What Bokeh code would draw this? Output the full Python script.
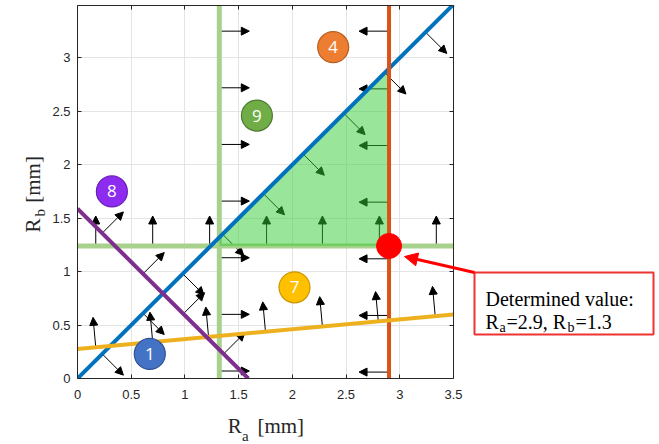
import math
from bokeh.plotting import figure
from bokeh.models import (ColumnDataSource, Arrow, NormalHead, Label, BoxAnnotation,
                          LinearAxis, FixedTicker, Grid)
from bokeh.core.properties import value
from bokeh.embed import file_html
from bokeh.resources import INLINE

# ---------------- data ----------------
ra_ticks = [0, 0.5, 1, 1.5, 2, 2.5, 3, 3.5]
ra_tick_labels = ["0", "0.5", "1", "1.5", "2", "2.5", "3", "3.5"]
rb_ticks = [0, 0.5, 1, 1.5, 2, 2.5, 3]
rb_tick_labels = ["0", "0.5", "1", "1.5", "2", "2.5", "3"]
ra_axis = (0, 3.5)
rb_axis = (0, 3.49)

# constraint 1 : Rb = Ra (feasible side: below)
c1_arrow_ra = [0.23, 0.61, 0.98, 1.35, 1.73, 2.10, 2.48, 2.86, 3.24]
# constraint 8 : Rb = 1.59 - Ra (feasible side: above)
c8_intercept = 1.59
c8_slope = -1.0
c8_arrow_ra = [0.23, 0.61, 0.985, 1.36]
# constraint 7 : Rb = 0.277 + 0.0917 Ra (feasible side: above)
c7_intercept = 0.277
c7_slope = 0.0917
c7_arrow_ra = [0.17, 0.70, 1.22, 1.75, 2.28, 2.80, 3.33]
# constraint 9 : Ra >= 1.32 and Rb >= 1.24
c9_ra = 1.32
c9_rb = 1.24
c9_arrow_rb = [0.07, 0.60, 1.13, 1.66, 2.19, 2.72, 3.25]
c9h_arrow_ra = [0.17, 0.70, 1.23, 1.76, 2.28, 2.81, 3.34]
# constraint 4 : Ra <= 2.9
c4_ra = 2.9
c4_arrow_rb = [0.06, 0.59, 1.12, 1.65, 2.18, 2.71, 3.25]

# numbered markers
marker_ids = ["1", "4", "9", "8", "7"]
marker_ra = [0.673, 2.38, 1.67, 0.32, 2.02]
marker_rb = [0.23, 3.10, 2.46, 1.75, 0.853]
marker_fill = ["#4472C4", "#ED7D31", "#70AD47", "#8E2BF0", "#FFC000"]
marker_edge = ["#2F5597", "#B85E20", "#4E7A31", "#6A1FB5", "#C99700"]

# determined solution
sol_ra = 2.9
sol_rb = 1.24
sol_text_1 = "Determined value:"
sol_text_ra = "=2.9, R"
sol_text_rb = "=1.3"

NBSP3 = "\u00a0\u00a0\u00a0"
x_title = "R" + NBSP3 + "[mm]"
x_title_sub = "a"
y_title = "R" + NBSP3 + "[mm]"
y_title_sub = "b"

# ---------------- layout geometry (page pixels) ----------------
W, H = 659, 444
ML, MR, MT, MB = 77, 4, 5, 66
FX0 = ML                     # page x of Ra = 0
FY0 = H - MB                 # page y of Rb = 0
SX = 376 / (ra_axis[1] - ra_axis[0])
SY = (H - MT - MB) / (rb_axis[1] - rb_axis[0])
x_end = (W - MR - FX0) / SX   # frame extends to the right to hold the note box


def X(px):
    return (px - FX0) / SX


def Y(py):
    return (FY0 - py) / SY


p = figure(width=W, height=H, output_backend="svg", toolbar_location=None,
           x_range=(ra_axis[0], x_end), y_range=rb_axis,
           min_border_left=ML, min_border_right=MR, min_border_top=MT, min_border_bottom=MB,
           background_fill_color="white", border_fill_color="white")
p.outline_line_color = None

AX = "#262626"
for ax, ticks, labels in ((p.xaxis[0], ra_ticks, ra_tick_labels), (p.yaxis[0], rb_ticks, rb_tick_labels)):
    ax.ticker = FixedTicker(ticks=ticks)
    ax.major_label_overrides = {t: l for t, l in zip(ticks, labels)}
    ax.minor_tick_line_color = None
    ax.major_tick_in = 4
    ax.major_tick_out = 0
    ax.major_tick_line_color = AX
    ax.axis_line_color = AX
    ax.major_label_text_font = "Liberation Sans"
    ax.major_label_text_font_size = "13px"
    ax.major_label_text_color = AX
p.xaxis.bounds = ra_axis
p.xaxis.major_label_standoff = 11
p.yaxis.major_label_standoff = 7
p.yaxis.major_label_orientation = "horizontal"

top_ax = LinearAxis(ticker=FixedTicker(ticks=ra_ticks), bounds=ra_axis,
                    major_label_overrides={t: "" for t in ra_ticks},
                    major_label_text_font_size="0px", major_label_standoff=0,
                    major_tick_in=4, major_tick_out=0, minor_tick_line_color=None,
                    major_tick_line_color=AX, axis_line_color=AX)
p.add_layout(top_ax, "above")
right_ax = LinearAxis(ticker=FixedTicker(ticks=rb_ticks), fixed_location=ra_axis[1],
                      major_label_overrides={t: "" for t in rb_ticks},
                      major_label_text_font_size="0px", major_label_standoff=0,
                      major_tick_in=4, major_tick_out=0, minor_tick_line_color=None,
                      major_tick_line_color=AX, axis_line_color=AX)
p.add_layout(right_ax, "right")

GRID = "#e4e4e4"
p.xgrid.grid_line_color = GRID
if "cross_bounds" in Grid.properties():
    p.ygrid.cross_bounds = ra_axis
    p.ygrid.grid_line_color = GRID
else:
    p.ygrid.grid_line_color = None
    gy = [t for t in rb_ticks if t > rb_axis[0]]
    p.segment([ra_axis[0]] * len(gy), gy, [ra_axis[1]] * len(gy), gy, line_color=GRID, line_width=1,
              level="underlay")

# ---------------- arrows (under the feasible patch) ----------------
L_PX = 30.0


def arrow_set(xs, ys, ux, uy):
    n = math.hypot(ux, uy)
    x1 = [x + L_PX * ux / n / SX for x in xs]
    y1 = [y + L_PX * uy / n / SY for y in ys]
    return list(xs), list(ys), x1, y1


sets = [
    arrow_set(c1_arrow_ra, list(c1_arrow_ra), 1, -1),
    arrow_set(c8_arrow_ra, [c8_intercept + c8_slope * r for r in c8_arrow_ra], 1, 1),
    arrow_set(c7_arrow_ra, [c7_intercept + c7_slope * r for r in c7_arrow_ra], -c7_slope, 1),
    arrow_set([c9_ra] * len(c9_arrow_rb), c9_arrow_rb, 1, 0),
    arrow_set(c9h_arrow_ra, [c9_rb] * len(c9h_arrow_ra), 0, 1),
    arrow_set([c4_ra] * len(c4_arrow_rb), c4_arrow_rb, -1, 0),
]
x0s, y0s, x1s, y1s = [], [], [], []
for a, b, c, d in sets:
    x0s += a; y0s += b; x1s += c; y1s += d
arrow_src = ColumnDataSource(dict(x0=x0s, y0=y0s, x1=x1s, y1=y1s))
p.add_layout(Arrow(source=arrow_src, x_start="x0", y_start="y0", x_end="x1", y_end="y1",
                   line_color="black", line_width=1, level="underlay",
                   end=NormalHead(size=8, fill_color="black", line_color="black", line_width=1)))

# ---------------- constraint lines ----------------
p.line([c9_ra, c9_ra], [rb_axis[0], rb_axis[1]], line_color="#A9D18E", line_width=5)
p.line([ra_axis[0], ra_axis[1]], [c9_rb, c9_rb], line_color="#A9D18E", line_width=5)

# feasible region
px_ = [c9_ra, c4_ra, c4_ra, c9_ra]
py_ = [c9_rb, c9_rb, c4_ra, max(c9_ra, c9_rb)]
p.patch(px_, py_, fill_color="#33CC33", fill_alpha=0.5, line_color=None)

p.line([ra_axis[0], ra_axis[1]], [ra_axis[0], ra_axis[1]], line_color="#0072BD", line_width=4)
p.line([c4_ra, c4_ra], [rb_axis[0], rb_axis[1]], line_color="#D95319", line_width=4)
p.line([ra_axis[0], ra_axis[1]], [c7_intercept + c7_slope * ra_axis[0], c7_intercept + c7_slope * ra_axis[1]],
       line_color="#EDB120", line_width=4)
p.line([0, -c8_intercept / c8_slope], [c8_intercept, 0], line_color="#7E2F8E", line_width=4)

# numbered markers
msrc = ColumnDataSource(dict(x=marker_ra, y=marker_rb, t=marker_ids, f=marker_fill, e=marker_edge))
p.scatter("x", "y", source=msrc, size=31, fill_color="f", line_color="e", line_width=1.2)
p.text("x", "y", text="t", source=msrc, text_color="white", text_align="center",
       text_baseline="middle", text_font=value("Open Sans"), text_font_size="17px")

# solution point
p.scatter([sol_ra], [sol_rb], size=25, fill_color="#FF0000", line_color="#FF0000")

# ---------------- annotation box ----------------
p.add_layout(BoxAnnotation(left=X(474), right=X(653), top=Y(272), bottom=Y(334),
                           fill_color="white", fill_alpha=1.0, line_color="#EE3333",
                           line_alpha=1.0, line_width=2, level="annotation"))
p.add_layout(Arrow(x_start=X(474), y_start=Y(272), x_end=X(404), y_end=Y(256),
                   line_color="#FF0000", line_width=3,
                   end=NormalHead(size=13, fill_color="#FF0000", line_color="#FF0000")))

SERIF = "Liberation Serif"


def lab(text, px, py, size, angle=0.0, color="black", place=None):
    l = Label(x=X(px), y=Y(py), text=text, text_font=SERIF, text_font_size=size,
              text_baseline="alphabetic", text_align="left", angle=angle, text_color=color,
              level="overlay")
    if place is None:
        p.add_layout(l)
    else:
        p.add_layout(l, place)


lab(sol_text_1, 485, 298.5, "20px")
lab("R", 485, 321.5, "20px")
lab("a", 499, 326.5, "14px")
lab(sol_text_ra, 506, 321.5, "20px")
lab("b", 567, 326.5, "14px")
lab(sol_text_rb, 575, 321.5, "20px")

# axis titles (placed in the side panels so that they are not clipped)
lab(x_title, 227.2, 425, "21px", color=AX, place="below")
lab(x_title_sub, 241.5, 435, "15px", color=AX, place="left")
lab(y_title, 32.5, 232, "21px", angle=math.pi / 2, color=AX, place="left")
lab(y_title_sub, 39, 216, "15px", angle=math.pi / 2, color=AX, place="left")

open("out.html", "w").write(file_html(p, INLINE))
